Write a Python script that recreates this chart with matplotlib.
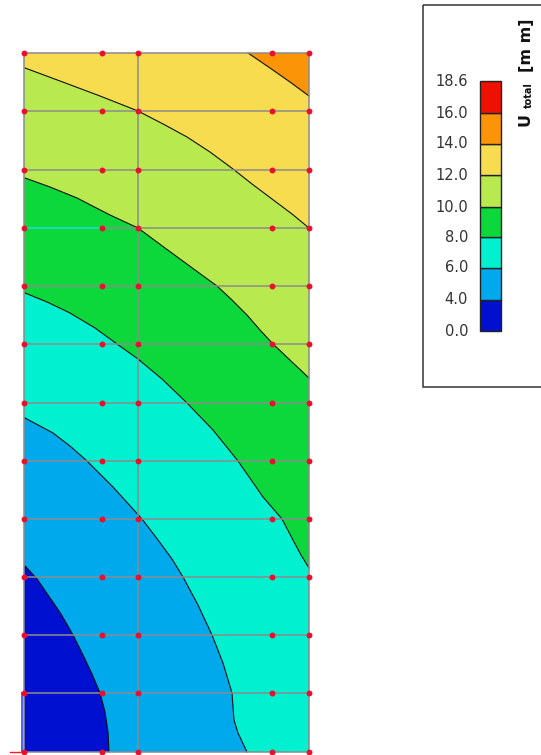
import matplotlib
matplotlib.use("Agg")
import matplotlib.pyplot as plt
from matplotlib.patches import Rectangle

# Isolines (bounds of each band), highest level first
line_16_x = [248, 270, 290, 309]
line_16_y = [53, 68, 82, 96]
line_14_x = [25, 60, 100, 138, 165, 187, 210, 233, 252, 272, 292, 309]
line_14_y = [68, 81, 96, 111, 125, 137, 152, 169, 184, 199, 214, 228]
line_12_x = [25, 50, 77, 110, 138, 165, 195, 217, 232, 247, 260, 273, 292, 309]
line_12_y = [178, 187, 198, 215, 228, 248, 270, 286, 300, 315, 330, 344, 362, 378]
line_10_x = [25, 47, 70, 95, 117, 138, 162, 187, 213, 238, 263, 282, 293, 301, 309]
line_10_y = [293, 302, 313, 328, 344, 359, 379, 403, 430, 461, 497, 519, 540, 555, 568]
line_8_x = [25, 53, 70, 87, 113, 142, 158, 172, 183, 198, 212, 223, 232, 233, 234, 238, 247]
line_8_y = [418, 433, 446, 461, 487, 519, 540, 559, 577, 605, 635, 663, 693, 707, 720, 733, 752]
line_6_x = [25, 37, 48, 61, 73, 83, 92, 100, 105, 108, 109]
line_6_y = [566, 579, 595, 614, 635, 655, 674, 693, 712, 732, 752]

isolines = [(line_16_x, line_16_y), (line_14_x, line_14_y), (line_12_x, line_12_y),
            (line_10_x, line_10_y), (line_8_x, line_8_y), (line_6_x, line_6_y)]
top_color = "#fc9408"
band_colors = ["#f8dc50", "#b8ea50", "#0cd83c", "#00f0d0", "#00a8ec", "#0010d0"]

# Mesh nodes
node_x = [24, 102, 138, 272, 309]
node_y = [53, 111, 170, 228, 286, 344, 403, 461, 519, 577, 635, 693, 752]
grid_x = [24, 138, 309]

# Legend
legend_labels = ["0.0", "4.0", "6.0", "8.0", "10.0", "12.0", "14.0", "16.0", "18.6"]
legend_colors = ["#0010d0", "#00a8ec", "#00f0d0", "#0cd83c", "#b8ea50", "#f8dc50", "#fc9408", "#ee1000"]
legend_y = [331, 300, 268, 237, 207, 175, 144, 113, 81]

fig = plt.figure(figsize=(5.41, 7.55), dpi=100)
ax = fig.add_axes([0, 0, 1, 1])
ax.set_xlim(0, 541)
ax.set_ylim(755, 0)
ax.axis("off")

x0, x1, y0, y1 = node_x[0], node_x[-1], node_y[0], node_y[-1]

# Bands, painted from the top right corner inwards
ax.fill([x0, x1, x1, x0], [y0, y0, y1, y1], color=top_color, lw=0, zorder=1)
for i, (lx, ly) in enumerate(isolines):
    first = y0 if i == 0 else ly[0]
    ax.fill([x0] + lx + [lx[-1], x0], [first] + ly + [y1, y1],
            color=band_colors[i], lw=0, zorder=2 + i)
for lx, ly in isolines:
    ax.plot(lx, ly, color="#101010", lw=0.8, zorder=10, solid_joinstyle="round")

# Mesh
for y in node_y:
    ax.plot([x0, x1], [y, y], color="#8c8c8c", lw=1.1, zorder=11, solid_capstyle="butt")
for x in grid_x:
    ax.plot([x, x], [y0, y1], color="#8c8c8c", lw=1.1, zorder=11, solid_capstyle="butt")
ax.plot([x0 + 2, node_x[1]], [node_y[3], node_y[3]], color="#00f0d0", lw=1.1, zorder=12)
nx = [x for x in node_x for _ in node_y]
ny = [y for _ in node_x for y in node_y]
ax.scatter(nx, ny, s=18, color="#e8102c", lw=0, zorder=13)

# Axis triad remnants at the lower left
ax.plot([10, x0], [y1, y1], color="#f02020", lw=1.0, zorder=9)
ax.plot([22, 22], [node_y[-2], y1], color="#5060f0", lw=1.4, zorder=9)
ax.plot([92, 112], [754.5, 754.5], color="#b0f0b0", lw=1.0, zorder=9)

# Legend frame
ax.add_patch(Rectangle((423, 5), 130, 382, fill=False, ec="#333333", lw=1.1, zorder=5))

# Legend bar
for i, c in enumerate(legend_colors):
    ax.add_patch(Rectangle((480, legend_y[i + 1]), 21, legend_y[i] - legend_y[i + 1],
                           fc=c, ec="#222222", lw=1.0, zorder=6))
for lab, y in zip(legend_labels, legend_y):
    ax.text(468, y, lab, ha="right", va="center", fontsize=10.5, color="#333333",
            family="DejaVu Sans", zorder=7)

# Legend title
ax.text(525, 120, "U", rotation=90, ha="center", va="center", fontsize=11.5,
        fontweight="bold", color="#111111")
ax.text(529, 95, "total", rotation=90, ha="center", va="center", fontsize=7,
        fontweight="bold", color="#111111")
ax.text(526, 45, "[m m]", rotation=90, ha="center", va="center", fontsize=11.5,
        fontweight="bold", color="#111111")

fig.savefig("out.png", dpi=100, facecolor="white")
